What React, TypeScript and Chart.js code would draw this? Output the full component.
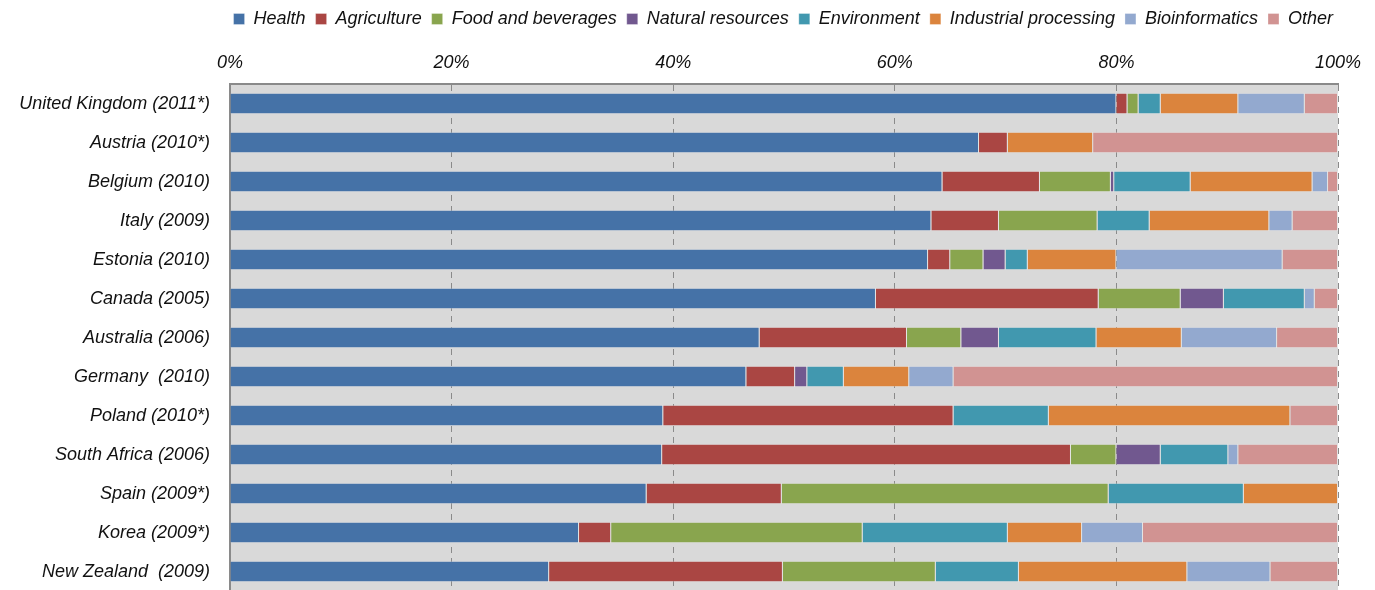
import React, { useEffect, useRef } from "react";
import { Chart, registerables } from "chart.js";

Chart.register(...registerables);

const categories = [
  "United Kingdom (2011*)",
  "Austria (2010*)",
  "Belgium (2010)",
  "Italy (2009)",
  "Estonia (2010)",
  "Canada (2005)",
  "Australia (2006)",
  "Germany  (2010)",
  "Poland (2010*)",
  "South Africa (2006)",
  "Spain (2009*)",
  "Korea (2009*)",
  "New Zealand  (2009)",
];

const health = [80, 67.6, 64.3, 63.3, 63, 58.3, 47.8, 46.6, 39.1, 39.0, 37.6, 31.5, 28.8];
const agriculture = [1, 2.6, 8.8, 6.1, 2, 20.1, 13.3, 4.4, 26.2, 36.9, 12.2, 2.9, 21.1];
const foodAndBeverages = [1, 0, 6.4, 8.9, 3, 7.4, 4.9, 0, 0, 4.1, 29.5, 22.7, 13.8];
const naturalResources = [0, 0, 0.3, 0, 2, 3.9, 3.4, 1.1, 0, 4.0, 0, 0, 0];
const environment = [2, 0, 6.9, 4.7, 2, 7.3, 8.8, 3.3, 8.6, 6.1, 12.2, 13.1, 7.5];
const industrialProcessing = [7, 7.7, 11.0, 10.8, 8, 0, 7.7, 5.9, 21.8, 0, 8.5, 6.7, 15.2];
const bioinformatics = [6, 0, 1.4, 2.1, 15, 0.9, 8.6, 4.0, 0, 0.9, 0, 5.5, 7.5];
const other = [3, 22.1, 0.9, 4.1, 5, 2.1, 5.5, 34.7, 4.3, 9.0, 0, 17.6, 6.1];

const seriesNames = [
  "Health",
  "Agriculture",
  "Food and beverages",
  "Natural resources",
  "Environment",
  "Industrial processing",
  "Bioinformatics",
  "Other",
];
const seriesValues = [
  health,
  agriculture,
  foodAndBeverages,
  naturalResources,
  environment,
  industrialProcessing,
  bioinformatics,
  other,
];
const seriesColors = [
  "#4572A7",
  "#AA4643",
  "#89A54E",
  "#71588F",
  "#4198AF",
  "#DB843D",
  "#93A9CF",
  "#D19392",
];

const xTicks = [0, 20, 40, 60, 80, 100];

const FONT = "'Liberation Sans', Arial, sans-serif";

const plotBg = {
  id: "plotBg",
  afterLayout(chart: any) {
    if (chart.legend) {
      chart.legend.left += 5;
      chart.legend.right += 5;
    }
  },
  beforeDraw(chart: any) {
    const { ctx, chartArea } = chart;
    if (!chartArea) return;
    ctx.save();
    ctx.fillStyle = "#D9D9D9";
    ctx.fillRect(chartArea.left, chartArea.top, chartArea.right - chartArea.left, chartArea.bottom - chartArea.top);
    ctx.restore();
  },
};

export default function App() {
  const ref = useRef<HTMLCanvasElement | null>(null);

  useEffect(() => {
    if (!ref.current) return;
    const chart = new Chart(ref.current, {
      type: "bar",
      data: {
        labels: categories,
        datasets: seriesNames.map((name, i) => ({
          label: name,
          data: seriesValues[i],
          backgroundColor: seriesColors[i],
          borderColor: "rgba(255,255,255,0.3)",
          borderWidth: 1,
          barPercentage: 0.555,
          categoryPercentage: 1,
        })),
      },
      options: {
        indexAxis: "y",
        animation: false,
        responsive: false,
        maintainAspectRatio: false,
        devicePixelRatio: 1,
        layout: { padding: { top: 0, right: 37, bottom: 2, left: 0 } },
        plugins: {
          tooltip: { enabled: false },
          legend: {
            position: "top",
            align: "end",
            labels: {
              boxWidth: 11,
              boxHeight: 11,
              padding: 10,
              color: "#111",
              font: { family: FONT, size: 18, style: "italic" },
            },
          },
        },
        scales: {
          x: {
            type: "linear",
            position: "top",
            stacked: true,
            min: 0,
            max: 100,
            afterBuildTicks: (scale: any) => {
              scale.ticks = xTicks.map((v) => ({ value: v }));
            },
            afterFit: (scale: any) => {
              scale.height = 46;
            },
            ticks: {
              padding: 10,
              color: "#111",
              font: { family: FONT, size: 18, style: "italic" },
              callback: (v: any) => v + "%",
              maxRotation: 0,
            },
            grid: {
              color: "#8a8a8a",
              lineWidth: 1,
              drawTicks: false,
            },
            border: { display: true, color: "#8a8a8a", width: 2, dash: [6, 5] },
          },
          y: {
            type: "category",
            stacked: true,
            afterFit: (scale: any) => {
              scale.width = 230;
              scale.paddingTop = 0;
              scale.paddingBottom = 0;
            },
            ticks: {
              padding: 20,
              color: "#111",
              font: { family: FONT, size: 18, style: "italic" },
            },
            grid: { display: false, drawTicks: false },
            border: { display: true, color: "#8a8a8a", width: 2 },
          },
        },
      },
      plugins: [plotBg],
    });
    return () => chart.destroy();
  }, []);

  return (
    <div style={{ position: "fixed", left: 0, top: 0, width: 1375, height: 593, background: "#fff" }}>
      <canvas ref={ref} width={1375} height={593} style={{ display: "block", width: 1375, height: 593 }} />
    </div>
  );
}
